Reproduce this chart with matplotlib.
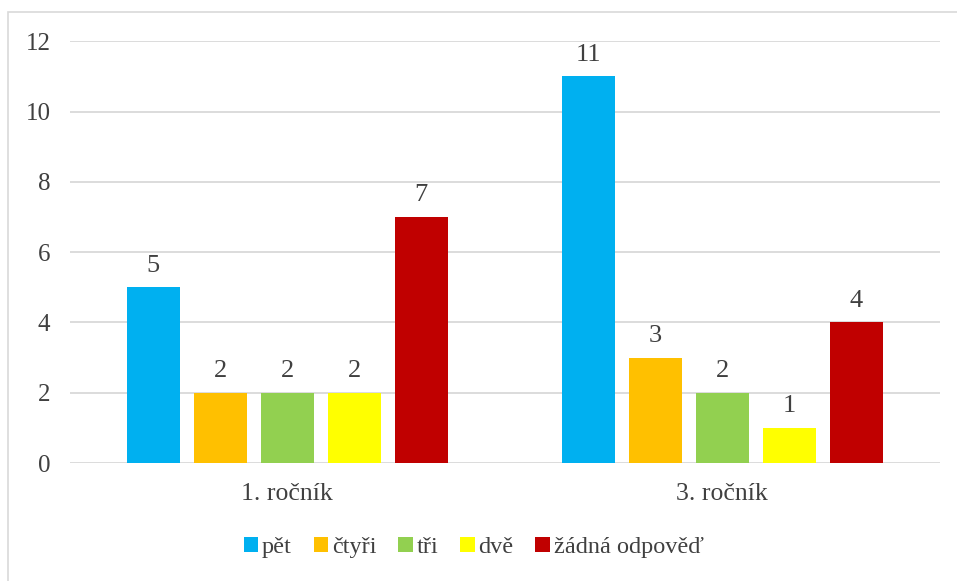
import numpy as np
import matplotlib.pyplot as plt
from matplotlib.patches import Rectangle

# Data
categories = ["1. ročník", "3. ročník"]
series_names = ["pět", "čtyři", "tři", "dvě", "žádná odpověď"]
values = {
    "pět": [5, 11],
    "čtyři": [2, 3],
    "tři": [2, 2],
    "dvě": [2, 1],
    "žádná odpověď": [7, 4],
}
colors = ["#00B0F0", "#FFC000", "#92D050", "#FFFF00", "#C00000"]
yticks = [0, 2, 4, 6, 8, 10, 12]

plt.rcParams["font.family"] = ["Liberation Serif", "DejaVu Serif"]
text_color = "#404040"

fig = plt.figure(figsize=(9.57, 5.81), dpi=100)
ax = fig.add_axes([0.073, 0.203, 0.909, 0.726])

x = np.arange(len(categories))
step = 0.154
width = 0.122
for i, (name, col) in enumerate(zip(series_names, colors)):
    offs = (i - 2) * step
    bars = ax.bar(x + offs, values[name], width, color=col, label=name, zorder=3)
    for b, v in zip(bars, values[name]):
        ax.text(b.get_x() + b.get_width() / 2, v + 0.3, str(v), ha="center", va="bottom",
                fontsize=19, color=text_color)

ax.set_xlim(-0.5, 1.5)
ax.set_ylim(0, 12)
ax.set_yticks(yticks)
ax.set_yticklabels([str(t) for t in yticks], fontsize=18, color=text_color)
ax.set_xticks(x)
ax.set_xticklabels(categories, fontsize=18.5, color=text_color)
ax.tick_params(axis="both", length=0)
ax.tick_params(axis="y", pad=14)
ax.tick_params(axis="x", pad=14)
ax.grid(axis="y", color="#D9D9D9", linewidth=1.3, zorder=0)
for s in ax.spines.values():
    s.set_visible(False)

leg = fig.legend(loc="center", bbox_to_anchor=(0.495, 0.058), ncol=5, frameon=False,
                 fontsize=17.5, handlelength=0.6, handleheight=0.6, handletextpad=0.15,
                 columnspacing=0.9)
for t in leg.get_texts():
    t.set_color(text_color)

# outer chart border (right and bottom edges lie outside the image)
fig.patches.append(Rectangle((8 / 957, -0.05), 1.0, 569 / 581 + 0.05, transform=fig.transFigure,
                             fill=False, edgecolor="#D9D9D9", linewidth=1.2))

plt.savefig("out.png", dpi=100)
plt.close()
